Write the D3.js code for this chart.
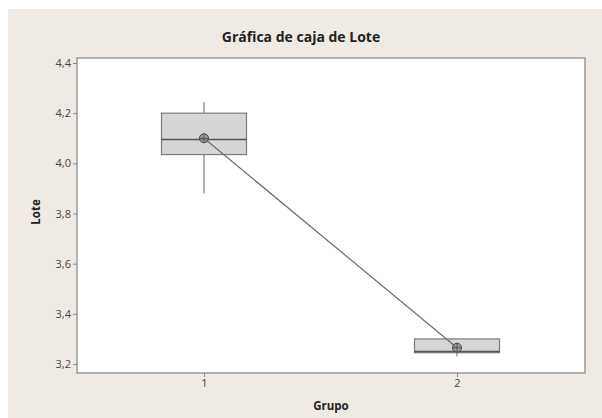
<!DOCTYPE html>
<html>
<head>
<meta charset="utf-8">
<script src="https://cdn.jsdelivr.net/npm/d3@7/dist/d3.min.js"></script>
<style>
  html, body { margin: 0; padding: 0; background: #ffffff; }
  svg { display: block; }
  text { font-family: "Open Sans", "DejaVu Sans", sans-serif; }
</style>
</head>
<body>
<svg id="chart" width="602" height="418"></svg>
<script>
// Box-plot summary per group
const groups = ["1", "2"];
const whiskerLow = [3.88, 3.23];
const q1 = [4.035, 3.245];
const median = [4.095, 3.25];
const q3 = [4.2, 3.3];
const whiskerHigh = [4.245, 3.3];
const means = [4.1, 3.265];
const yTicks = [3.2, 3.4, 3.6, 3.8, 4.0, 4.2, 4.4];

const svg = d3.select("#chart");
const W = 602, H = 418;

// Beige panel background
svg.append("rect").attr("x", 8).attr("y", 9).attr("width", W - 8).attr("height", H - 9)
  .attr("fill", "#efebe4");

const plot = { left: 77, right: 585, top: 58, bottom: 373 };

svg.append("rect")
  .attr("x", plot.left).attr("y", plot.top)
  .attr("width", plot.right - plot.left).attr("height", plot.bottom - plot.top)
  .attr("fill", "#fffffd").attr("stroke", "#9a9a9a").attr("stroke-width", 1.5);

const y = d3.scaleLinear().domain([3.2, 4.4]).range([364, 63]);
const x = d3.scalePoint().domain(groups).range([204, 457]);

// Y axis
const yAxis = svg.append("g").attr("transform", `translate(${plot.left},0)`)
  .call(d3.axisLeft(y).tickValues(yTicks).tickSize(4).tickSizeOuter(0)
    .tickFormat(d => d3.format(".1f")(d).replace(".", ",")));
yAxis.select(".domain").remove();
yAxis.selectAll(".tick line").attr("stroke", "#8a8a8a");
yAxis.selectAll(".tick text").attr("fill", "#444").attr("font-size", 11).attr("x", -6);

// X axis
const xAxis = svg.append("g").attr("transform", `translate(0,${plot.bottom})`)
  .call(d3.axisBottom(x).tickSize(4).tickSizeOuter(0));
xAxis.select(".domain").remove();
xAxis.selectAll(".tick line").attr("stroke", "#8a8a8a");
xAxis.selectAll(".tick text").attr("fill", "#444").attr("font-size", 11).attr("y", 6);

// Titles
svg.append("text").attr("x", 301).attr("y", 42).attr("text-anchor", "middle")
  .attr("font-size", 14).attr("font-weight", "bold").attr("fill", "#222")
  .text("Gráfica de caja de Lote");
svg.append("text").attr("x", 331).attr("y", 410).attr("text-anchor", "middle")
  .attr("font-size", 11.5).attr("font-weight", "bold").attr("fill", "#222").text("Grupo");
svg.append("text").attr("transform", "translate(40,212) rotate(-90)").attr("text-anchor", "middle")
  .attr("font-size", 11.5).attr("font-weight", "bold").attr("fill", "#222").text("Lote");

const boxW = 85;
const g = svg.append("g");
groups.forEach((grp, i) => {
  const cx = x(grp);
  // whiskers
  g.append("line").attr("x1", cx).attr("x2", cx)
    .attr("y1", y(whiskerHigh[i])).attr("y2", y(q3[i]))
    .attr("stroke", "#666").attr("stroke-width", 1);
  g.append("line").attr("x1", cx).attr("x2", cx)
    .attr("y1", y(q1[i])).attr("y2", y(whiskerLow[i]))
    .attr("stroke", "#666").attr("stroke-width", 1);
  // box
  g.append("rect").attr("x", cx - boxW / 2).attr("y", y(q3[i]))
    .attr("width", boxW).attr("height", y(q1[i]) - y(q3[i]))
    .attr("fill", "#d6d6d6").attr("stroke", "#7a7a7a").attr("stroke-width", 1.2);
  // median
  g.append("line").attr("x1", cx - boxW / 2).attr("x2", cx + boxW / 2)
    .attr("y1", y(median[i])).attr("y2", y(median[i]))
    .attr("stroke", "#555").attr("stroke-width", 1.4);
});

// Line connecting the means
const line = d3.line().x((d, i) => x(groups[i])).y(d => y(d));
svg.append("path").datum(means).attr("d", line)
  .attr("fill", "none").attr("stroke", "#6a6a6a").attr("stroke-width", 1.2);

// Mean symbols: circle with crosshair
means.forEach((m, i) => {
  const cx = x(groups[i]), cy = y(m);
  svg.append("circle").attr("cx", cx).attr("cy", cy).attr("r", 4.5)
    .attr("fill", "#8a8a8a").attr("fill-opacity", 0.75).attr("stroke", "#444").attr("stroke-width", 1);
  svg.append("line").attr("x1", cx - 4.5).attr("x2", cx + 4.5).attr("y1", cy).attr("y2", cy)
    .attr("stroke", "#444").attr("stroke-width", 0.8);
  svg.append("line").attr("x1", cx).attr("x2", cx).attr("y1", cy - 4.5).attr("y2", cy + 4.5)
    .attr("stroke", "#444").attr("stroke-width", 0.8);
});
</script>
</body>
</html>
